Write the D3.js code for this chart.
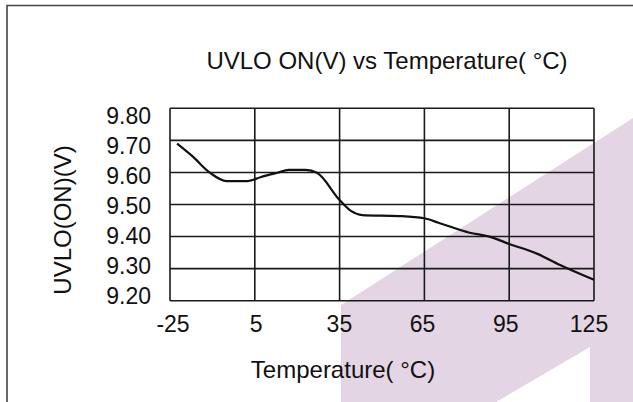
<!DOCTYPE html>
<html>
<head>
<meta charset="utf-8">
<script src="https://cdn.jsdelivr.net/npm/d3@7"></script>
<style>
  html, body { margin: 0; padding: 0; background: #fff; }
  svg { display: block; }
  text { font-family: "Liberation Sans", Arial, sans-serif; fill: #111; }
</style>
</head>
<body>
<svg id="chart" width="633" height="402"></svg>
<script>
// ---- data ----
const temperatures = [-22.5, -17, -11, -5, 2.5, 7, 13, 17, 23, 27, 35, 39, 43, 56, 65, 70, 81, 88, 95, 105, 113, 125];
const uvloOn =       [9.69, 9.65, 9.60, 9.573, 9.573, 9.585, 9.599, 9.608, 9.608, 9.599, 9.514, 9.48, 9.467, 9.464, 9.457, 9.443, 9.412, 9.400, 9.377, 9.346, 9.311, 9.265];
const xTicks = [-25, 5, 35, 65, 95, 125];
const yTicks = [9.20, 9.30, 9.40, 9.50, 9.60, 9.70, 9.80];
const titleText = "UVLO ON(V) vs Temperature( \u00B0C)";
const xTitle = "Temperature( \u00B0C)";
const yTitle = "UVLO(ON)(V)";

(function () {
const svg = d3.select("#chart");

// watermark shapes (background)
const wm = "#e3d5e3";
svg.append("path")
  .attr("d", "M341,402 L341,305 L633,118 L633,402 Z")
  .attr("fill", wm);
svg.append("path")
  .attr("d", "M590,347 L590,402 L496,402 Z")
  .attr("fill", "#fff");

// outer frame (top and left)
svg.append("path")
  .attr("d", "M7,402 L7,5.5 L633,5.5")
  .attr("fill", "none").attr("stroke", "#444").attr("stroke-width", 1.6);

const pL = 170, pR = 594, pT = 108.3, pB = 300.7;
const x = d3.scaleLinear().domain([-25, 125]).range([pL, pR]);
const y = d3.scaleLinear().domain([9.2, 9.8]).range([pB, pT]);
// label placement scales (labels in the original are spaced slightly differently from grid)
const yLab = d3.scaleLinear().domain([9.8, 9.2]).range([116, 296]);
const xLab = d3.scaleLinear().domain([-25, 125]).range([173, 589]);

// grid
const g = svg.append("g");
g.selectAll("line.v").data(xTicks).join("line").attr("class", "v")
  .attr("x1", d => x(d)).attr("x2", d => x(d))
  .attr("y1", pT).attr("y2", pB)
  .attr("stroke", "#1a1a1a").attr("stroke-width", 1.6);
g.selectAll("line.h").data(yTicks).join("line").attr("class", "h")
  .attr("x1", pL).attr("x2", pR)
  .attr("y1", d => y(d)).attr("y2", d => y(d))
  .attr("stroke", "#1a1a1a").attr("stroke-width", 1.6);

// y tick labels
svg.append("g").selectAll("text").data(yTicks).join("text")
  .attr("x", 151).attr("y", d => yLab(d))
  .attr("text-anchor", "end").attr("dominant-baseline", "central")
  .attr("font-size", 23)
  .text(d => d.toFixed(2));

// x tick labels
svg.append("g").selectAll("text").data(xTicks).join("text")
  .attr("x", d => xLab(d)).attr("y", 324)
  .attr("text-anchor", "middle").attr("dominant-baseline", "central")
  .attr("font-size", 23)
  .text(d => d);

// line
const line = d3.line()
  .x((d, i) => x(temperatures[i]))
  .y(d => y(d))
  .curve(d3.curveMonotoneX);
svg.append("path")
  .datum(uvloOn)
  .attr("d", line)
  .attr("fill", "none").attr("stroke", "#111").attr("stroke-width", 2.2);

// titles
svg.append("text").attr("x", 387).attr("y", 69)
  .attr("text-anchor", "middle").attr("font-size", 24)
  .text(titleText);
svg.append("text").attr("x", 343).attr("y", 378)
  .attr("text-anchor", "middle").attr("font-size", 24)
  .text(xTitle);
svg.append("text")
  .attr("transform", "translate(71,220) rotate(-90)")
  .attr("text-anchor", "middle").attr("font-size", 24)
  .text(yTitle);
})();
</script>
</body>
</html>
